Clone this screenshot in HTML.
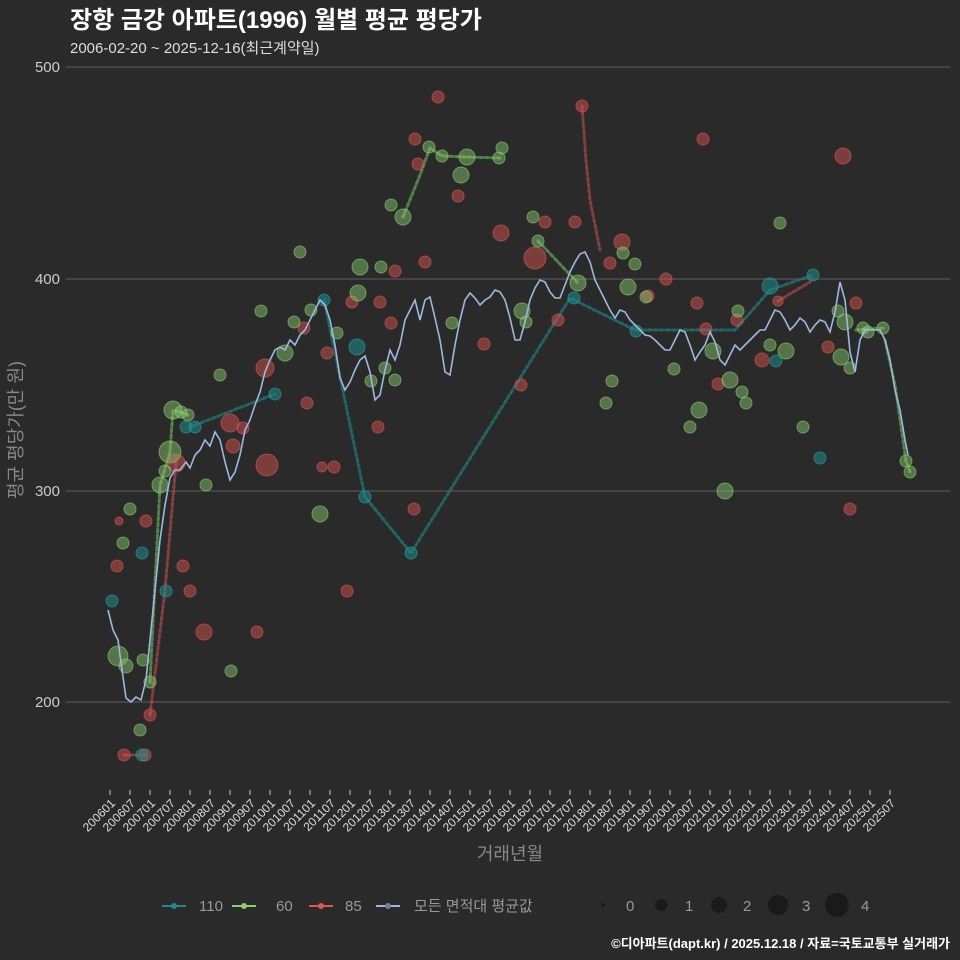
<!DOCTYPE html>
<html><head><meta charset="utf-8">
<style>
html,body{margin:0;padding:0;background:#2a2a2b;}
svg{display:block;font-family:"Liberation Sans","Noto Sans CJK KR",sans-serif;}
</style></head><body>
<svg width="960" height="960" viewBox="0 0 960 960">
<rect width="960" height="960" fill="#2a2a2b"/>
<text x="70" y="28" fill="#fff" font-size="24" font-weight="bold">장항 금강 아파트(1996) 월별 평균 평당가</text>
<text x="70" y="53" fill="#ddd" font-size="15">2006-02-20 ~ 2025-12-16(최근계약일)</text>
<g stroke="#5f5f60" stroke-width="1">
<line x1="66" y1="67" x2="950" y2="67"/><line x1="66" y1="279" x2="950" y2="279"/>
<line x1="66" y1="491" x2="950" y2="491"/><line x1="66" y1="702" x2="950" y2="702"/>
</g>
<g fill="#ccc" font-size="15" text-anchor="end">
<text x="60" y="72">500</text><text x="60" y="284">400</text><text x="60" y="496">300</text><text x="60" y="707">200</text>
</g>
<text transform="translate(22,430) rotate(-90)" fill="#888" font-size="18" text-anchor="middle">평균 평당가(만 원)</text>
<text x="510" y="860" fill="#888" font-size="18" text-anchor="middle">거래년월</text>
<g fill="#ddd" font-size="12" text-anchor="end">
<text transform="translate(116,804) rotate(-45)">200601</text><text transform="translate(136,804) rotate(-45)">200607</text><text transform="translate(156,804) rotate(-45)">200701</text><text transform="translate(176,804) rotate(-45)">200707</text><text transform="translate(196,804) rotate(-45)">200801</text><text transform="translate(216,804) rotate(-45)">200807</text><text transform="translate(236,804) rotate(-45)">200901</text><text transform="translate(256,804) rotate(-45)">200907</text><text transform="translate(276,804) rotate(-45)">201001</text><text transform="translate(296,804) rotate(-45)">201007</text><text transform="translate(316,804) rotate(-45)">201101</text><text transform="translate(336,804) rotate(-45)">201107</text><text transform="translate(356,804) rotate(-45)">201201</text><text transform="translate(376,804) rotate(-45)">201207</text><text transform="translate(396,804) rotate(-45)">201301</text><text transform="translate(416,804) rotate(-45)">201307</text><text transform="translate(436,804) rotate(-45)">201401</text><text transform="translate(456,804) rotate(-45)">201407</text><text transform="translate(476,804) rotate(-45)">201501</text><text transform="translate(496,804) rotate(-45)">201507</text><text transform="translate(516,804) rotate(-45)">201601</text><text transform="translate(536,804) rotate(-45)">201607</text><text transform="translate(556,804) rotate(-45)">201701</text><text transform="translate(576,804) rotate(-45)">201707</text><text transform="translate(596,804) rotate(-45)">201801</text><text transform="translate(616,804) rotate(-45)">201807</text><text transform="translate(636,804) rotate(-45)">201901</text><text transform="translate(656,804) rotate(-45)">201907</text><text transform="translate(676,804) rotate(-45)">202001</text><text transform="translate(696,804) rotate(-45)">202007</text><text transform="translate(716,804) rotate(-45)">202101</text><text transform="translate(736,804) rotate(-45)">202107</text><text transform="translate(756,804) rotate(-45)">202201</text><text transform="translate(776,804) rotate(-45)">202207</text><text transform="translate(796,804) rotate(-45)">202301</text><text transform="translate(816,804) rotate(-45)">202307</text><text transform="translate(836,804) rotate(-45)">202401</text><text transform="translate(856,804) rotate(-45)">202407</text><text transform="translate(876,804) rotate(-45)">202501</text><text transform="translate(896,804) rotate(-45)">202507</text>
</g>
<path stroke="#ccc" stroke-width="1" d="M110 790v5M130 790v5M150 790v5M170 790v5M190 790v5M210 790v5M230 790v5M250 790v5M270 790v5M290 790v5M310 790v5M330 790v5M350 790v5M370 790v5M390 790v5M410 790v5M430 790v5M450 790v5M470 790v5M490 790v5M510 790v5M530 790v5M550 790v5M570 790v5M590 790v5M610 790v5M630 790v5M650 790v5M670 790v5M690 790v5M710 790v5M730 790v5M750 790v5M770 790v5M790 790v5M810 790v5M830 790v5M850 790v5M870 790v5M890 790v5"/>

<!-- dotted series lines -->
<g fill="none" stroke-width="3" stroke-dasharray="3 3" stroke-linecap="round">
<polyline stroke="#1f7f80" opacity="0.7" points="190,427 275,394 M0,0"/>
<polyline stroke="#1f7f80" opacity="0.7" points="324,300 365,497 411,553 570,298 635,330 735,330 770,290 813,275"/>
<polyline stroke="#6fbf5f" opacity="0.6" points="150,682 160,485 170,452 173,410 188,415"/>
<polyline stroke="#6fbf5f" opacity="0.6" points="403,217 420,175 430,148 442,156 467,157 500,158"/>
<polyline stroke="#6fbf5f" opacity="0.6" points="538,241 578,283"/>
<polyline stroke="#6fbf5f" opacity="0.6" points="856,330 883,328"/>
<polyline stroke="#6fbf5f" opacity="0.6" points="885,340 895,385 906,461 910,472"/>
<polyline stroke="#c05050" opacity="0.6" points="124,755 145,755"/>
<polyline stroke="#c05050" opacity="0.6" points="150,715 165,590 176,463"/>
<polyline stroke="#c05050" opacity="0.6" points="582,106 586,160 590,200 600,250"/>
<polyline stroke="#c05050" opacity="0.6" points="778,301 810,282"/>
</g>

<!-- scatter -->
<g fill="#e0574f" fill-opacity="0.45" stroke="#e0574f" stroke-opacity="0.6">
<circle cx="117" cy="566" r="6"/><circle cx="124" cy="755" r="6"/><circle cx="145" cy="755" r="6"/><circle cx="150" cy="715" r="6"/><circle cx="119" cy="521" r="4"/><circle cx="146" cy="521" r="6"/><circle cx="176" cy="463" r="9"/><circle cx="183" cy="566" r="6"/><circle cx="190" cy="591" r="6"/><circle cx="204" cy="632" r="8"/><circle cx="230" cy="423" r="9"/><circle cx="233" cy="446" r="7"/><circle cx="243" cy="428" r="6"/><circle cx="257" cy="632" r="6"/><circle cx="267" cy="465" r="11"/><circle cx="265" cy="368" r="9"/><circle cx="304" cy="328" r="6"/><circle cx="307" cy="403" r="6"/><circle cx="322" cy="467" r="5"/><circle cx="334" cy="467" r="6"/><circle cx="327" cy="353" r="6"/><circle cx="347" cy="591" r="6"/><circle cx="352" cy="302" r="6"/><circle cx="378" cy="427" r="6"/><circle cx="380" cy="302" r="6"/><circle cx="391" cy="323" r="6"/><circle cx="395" cy="271" r="6"/><circle cx="414" cy="509" r="6"/><circle cx="415" cy="139" r="6"/><circle cx="418" cy="164" r="6"/><circle cx="425" cy="262" r="6"/><circle cx="438" cy="97" r="6"/><circle cx="458" cy="196" r="6"/><circle cx="484" cy="344" r="6"/><circle cx="501" cy="233" r="8"/><circle cx="521" cy="385" r="6"/><circle cx="535" cy="258" r="11"/><circle cx="545" cy="222" r="6"/><circle cx="558" cy="320" r="6"/><circle cx="575" cy="222" r="6"/><circle cx="582" cy="106" r="6"/><circle cx="610" cy="263" r="6"/><circle cx="622" cy="242" r="8"/><circle cx="648" cy="296" r="6"/><circle cx="666" cy="279" r="6"/><circle cx="697" cy="303" r="6"/><circle cx="703" cy="139" r="6"/><circle cx="706" cy="329" r="6"/><circle cx="718" cy="384" r="6"/><circle cx="737" cy="320" r="6"/><circle cx="762" cy="360" r="7"/><circle cx="778" cy="301" r="5"/><circle cx="828" cy="347" r="6"/><circle cx="843" cy="156" r="8"/><circle cx="850" cy="509" r="6"/><circle cx="856" cy="303" r="6"/>
</g>
<g fill="#8ccf6f" fill-opacity="0.45" stroke="#8ccf6f" stroke-opacity="0.6">
<circle cx="118" cy="656" r="10"/><circle cx="126" cy="666" r="7"/><circle cx="123" cy="543" r="6"/><circle cx="130" cy="509" r="6"/><circle cx="143" cy="660" r="6"/><circle cx="140" cy="730" r="6"/><circle cx="150" cy="682" r="6"/><circle cx="160" cy="485" r="8"/><circle cx="165" cy="471" r="6"/><circle cx="170" cy="452" r="11"/><circle cx="173" cy="410" r="9"/><circle cx="181" cy="412" r="6"/><circle cx="188" cy="415" r="6"/><circle cx="206" cy="485" r="6"/><circle cx="220" cy="375" r="6"/><circle cx="231" cy="671" r="6"/><circle cx="261" cy="311" r="6"/><circle cx="285" cy="353" r="8"/><circle cx="294" cy="322" r="6"/><circle cx="300" cy="252" r="6"/><circle cx="311" cy="310" r="6"/><circle cx="320" cy="514" r="8"/><circle cx="337" cy="333" r="6"/><circle cx="358" cy="293" r="8"/><circle cx="360" cy="267" r="8"/><circle cx="371" cy="381" r="6"/><circle cx="381" cy="267" r="6"/><circle cx="385" cy="368" r="6"/><circle cx="391" cy="205" r="6"/><circle cx="395" cy="380" r="6"/><circle cx="403" cy="217" r="8"/><circle cx="429" cy="147" r="6"/><circle cx="442" cy="156" r="6"/><circle cx="452" cy="323" r="6"/><circle cx="461" cy="175" r="8"/><circle cx="467" cy="157" r="8"/><circle cx="502" cy="148" r="6"/><circle cx="499" cy="158" r="6"/><circle cx="522" cy="311" r="8"/><circle cx="526" cy="322" r="6"/><circle cx="533" cy="217" r="6"/><circle cx="538" cy="241" r="6"/><circle cx="578" cy="283" r="8"/><circle cx="606" cy="403" r="6"/><circle cx="612" cy="381" r="6"/><circle cx="623" cy="253" r="6"/><circle cx="628" cy="287" r="8"/><circle cx="635" cy="264" r="6"/><circle cx="646" cy="297" r="6"/><circle cx="674" cy="369" r="6"/><circle cx="690" cy="427" r="6"/><circle cx="699" cy="410" r="8"/><circle cx="713" cy="351" r="8"/><circle cx="725" cy="491" r="8"/><circle cx="730" cy="380" r="8"/><circle cx="738" cy="311" r="6"/><circle cx="742" cy="392" r="6"/><circle cx="746" cy="403" r="6"/><circle cx="770" cy="345" r="6"/><circle cx="780" cy="223" r="6"/><circle cx="786" cy="351" r="8"/><circle cx="803" cy="427" r="6"/><circle cx="838" cy="311" r="6"/><circle cx="841" cy="357" r="8"/><circle cx="845" cy="322" r="8"/><circle cx="850" cy="368" r="6"/><circle cx="863" cy="328" r="6"/><circle cx="868" cy="332" r="6"/><circle cx="883" cy="328" r="6"/><circle cx="906" cy="461" r="6"/><circle cx="910" cy="472" r="6"/>
</g>
<g fill="#1f8a8a" fill-opacity="0.55" stroke="#2aa0a0" stroke-opacity="0.6">
<circle cx="112" cy="601" r="6"/><circle cx="142" cy="755" r="6"/><circle cx="142" cy="553" r="6"/><circle cx="166" cy="591" r="6"/><circle cx="186" cy="427" r="6"/><circle cx="195" cy="427" r="6"/><circle cx="275" cy="394" r="6"/><circle cx="324" cy="300" r="6"/><circle cx="357" cy="347" r="8"/><circle cx="365" cy="497" r="6"/><circle cx="411" cy="553" r="6"/><circle cx="574" cy="298" r="6"/><circle cx="636" cy="331" r="6"/><circle cx="770" cy="286" r="8"/><circle cx="776" cy="361" r="6"/><circle cx="813" cy="275" r="6"/><circle cx="820" cy="458" r="6"/>
</g>

<!-- mean line -->
<polyline fill="none" stroke="#9db8df" stroke-width="1.6" points="108,610 113,630 118,640 122,670 126,698 131,702 136,697 141,700 146,680 150,640 155,590 160,540 165,505 170,478 175,470 180,470 186,462 190,468 195,455 200,450 205,440 210,446 215,432 220,440 225,462 230,480 235,472 240,455 245,430 250,420 255,405 260,392 265,372 270,360 275,350 280,347 285,350 290,340 295,345 300,335 305,330 310,320 315,310 320,300 325,305 330,320 335,345 340,378 345,390 350,382 355,370 360,360 365,356 370,372 375,400 380,395 385,370 390,350 395,360 400,345 405,320 410,310 415,300 420,320 425,300 430,297 435,318 440,340 445,372 450,375 455,345 460,320 465,300 470,293 475,298 480,305 485,300 490,297 495,290 500,292 505,300 510,318 515,340 520,340 525,322 530,300 535,288 540,280 545,282 550,292 555,298 560,298 565,285 570,272 575,262 580,254 585,252 590,262 595,280 600,290 605,300 610,310 615,318 620,310 625,312 630,320 635,325 640,330 645,335 650,336 655,340 660,345 665,350 670,350 675,340 680,330 685,332 690,345 695,360 700,352 705,345 710,332 715,342 720,360 725,365 730,355 735,345 740,350 745,345 750,340 755,335 760,330 765,330 770,320 775,310 780,312 785,320 790,330 795,325 800,318 805,322 810,332 815,325 820,320 825,322 830,332 835,312 840,282 845,300 850,352 855,372 860,340 865,330 870,330 875,330 880,330 885,340 890,360 895,390 900,410 905,440 908,455"/>

<!-- legend -->
<g font-size="15" fill="#999">
<line x1="162" y1="906" x2="186" y2="906" stroke="#1f8a8a" stroke-width="2"/><circle cx="174" cy="906" r="3" fill="#1f8a8a"/><text x="199" y="911" fill="#999">110</text>
<line x1="232" y1="906" x2="256" y2="906" stroke="#8ccf6f" stroke-width="2"/><circle cx="244" cy="906" r="3" fill="#8ccf6f"/><text x="276" y="911">60</text>
<line x1="309" y1="906" x2="333" y2="906" stroke="#e0574f" stroke-width="2"/><circle cx="321" cy="906" r="3" fill="#e0574f"/><text x="345" y="911">85</text>
<line x1="376" y1="906" x2="400" y2="906" stroke="#9db8df" stroke-width="2"/><circle cx="388" cy="906" r="3" fill="#6f7f9f"/><text x="414" y="911">모든 면적대 평균값</text>
<circle cx="603" cy="905" r="2" fill="#1a1a1a"/><text x="626" y="911">0</text>
<circle cx="661" cy="905" r="6" fill="#1a1a1a"/><text x="685" y="911">1</text>
<circle cx="719" cy="905" r="8" fill="#1a1a1a"/><text x="743" y="911">2</text>
<circle cx="778" cy="905" r="10" fill="#1a1a1a"/><text x="802" y="911">3</text>
<circle cx="837" cy="905" r="12" fill="#1a1a1a"/><text x="861" y="911">4</text>
</g>
<text x="950" y="948" fill="#fff" font-size="13" font-weight="bold" text-anchor="end">©디아파트(dapt.kr) / 2025.12.18 / 자료=국토교통부 실거래가</text>
</svg>
</body></html>
